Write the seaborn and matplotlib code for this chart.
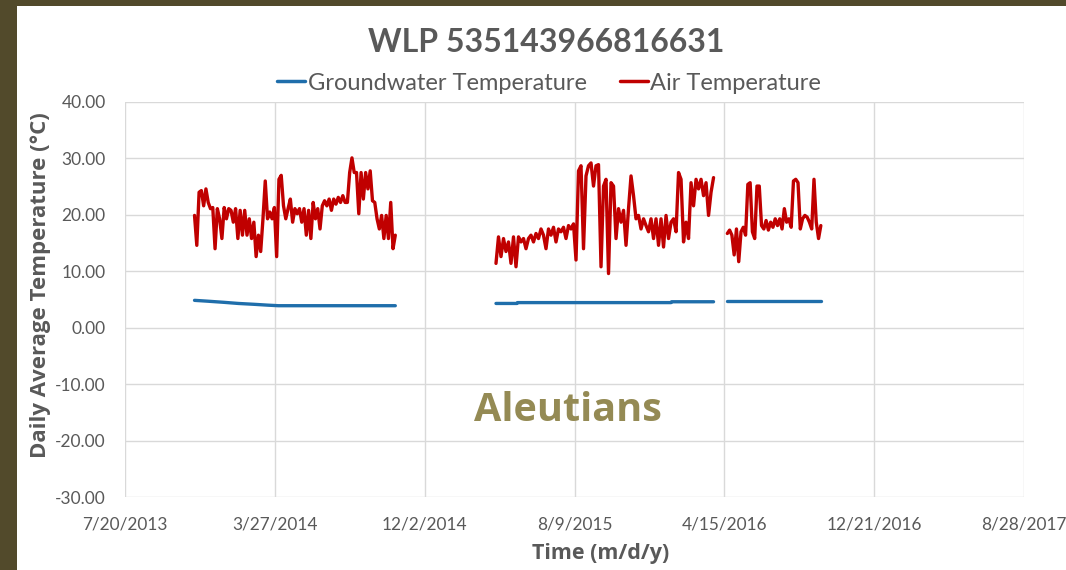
import numpy as np
import pandas as pd
import matplotlib
matplotlib.use("Agg")
import matplotlib.pyplot as plt
import matplotlib.dates as mdates
from matplotlib.lines import Line2D
from matplotlib.patches import Rectangle
import seaborn as sns

# ---------------- data ----------------
title = "WLP 535143966816631"
series_names = ["Groundwater Temperature", "Air Temperature"]
region_label = "Aleutians"

# Air temperature, three logging periods (evenly spaced samples between start and end)
air1_start, air1_end = "2013-11-13", "2014-10-14"
air1_vals = [19.9, 14.6, 24.0, 24.3, 21.6, 24.6, 22.2, 21.1, 21.3, 14.0, 21.1, 19.3, 15.8, 21.3,
             19.3, 21.1, 20.8, 18.7, 21.1, 15.8, 20.8, 16.4, 20.8, 16.4, 19.3, 15.8, 18.7, 12.6,
             16.4, 13.5, 19.3, 26.0, 19.3, 20.5, 19.3, 21.3, 12.6, 26.3, 27.0, 21.6, 19.3, 21.1,
             22.8, 18.7, 21.1, 20.2, 21.1, 18.7, 21.1, 16.4, 20.8, 15.8, 22.2, 19.3, 21.1, 17.5,
             21.6, 22.5, 21.6, 22.8, 20.8, 22.8, 21.9, 23.1, 22.2, 23.4, 22.2, 22.2, 27.5, 30.1,
             27.5, 27.5, 20.2, 27.5, 22.8, 27.5, 24.6, 27.8, 22.5, 22.2, 19.3, 17.5, 19.9, 15.8,
             19.9, 15.8, 22.2, 14.0, 16.4]

air2_start, air2_end = "2015-03-31", "2016-03-28"
air2_vals = [11.4, 16.1, 12.6, 15.8, 13.5, 15.2, 11.4, 16.1, 10.8, 16.1, 15.2, 15.8, 14.0, 15.8,
             16.4, 15.2, 16.7, 15.8, 17.5, 16.4, 14.0, 17.5, 16.4, 17.8, 15.2, 17.5, 17.0, 17.8,
             15.8, 18.1, 17.5, 18.4, 12.0, 27.8, 28.7, 14.0, 26.9, 28.7, 29.2, 25.1, 28.7, 28.9,
             10.8, 25.1, 26.3, 9.6, 25.7, 25.1, 15.8, 21.1, 18.7, 20.8, 14.6, 21.1, 26.9, 23.4,
             19.3, 19.9, 17.5, 19.3, 18.1, 17.0, 19.3, 15.8, 19.3, 14.6, 19.3, 14.3, 19.9, 15.8,
             18.7, 19.3, 17.0, 27.5, 26.3, 15.2, 18.7, 15.8, 25.7, 21.6, 26.3, 24.6, 26.3, 23.4,
             25.7, 19.9, 24.0, 26.6]

air3_start, air3_end = "2016-04-20", "2016-09-23"
air3_vals = [16.7, 17.3, 16.4, 12.9, 17.5, 11.7, 17.0, 17.8, 16.4, 25.4, 25.7, 17.0, 15.8, 25.1,
             25.1, 18.1, 17.5, 19.0, 17.3, 18.7, 17.8, 19.3, 18.1, 19.3, 17.5, 21.1, 18.7, 19.3,
             17.8, 26.0, 26.3, 25.7, 17.5, 19.3, 19.9, 19.6, 18.7, 17.5, 26.3, 18.7, 15.8, 18.1]

# Groundwater temperature, breakpoints per logging period
gw1_dates = ["2013-11-13", "2013-12-05", "2014-01-01", "2014-01-25", "2014-02-20",
             "2014-03-15", "2014-04-02", "2014-10-14"]
gw1_vals = [4.85, 4.7, 4.5, 4.3, 4.15, 4.0, 3.9, 3.9]
gw2_dates = ["2015-03-31", "2015-05-05", "2015-05-06", "2016-01-17", "2016-01-18", "2016-03-28"]
gw2_vals = [4.3, 4.3, 4.45, 4.45, 4.6, 4.6]
gw3_dates = ["2016-04-20", "2016-09-23"]
gw3_vals = [4.7, 4.7]

x_start, x_end = "2013-07-20", "2017-08-28"
y_ticks = [-30, -20, -10, 0, 10, 20, 30, 40]

# ---------------- tidy frame ----------------
frames = []
for i, (s, e, v) in enumerate([(air1_start, air1_end, air1_vals),
                               (air2_start, air2_end, air2_vals),
                               (air3_start, air3_end, air3_vals)]):
    frames.append(pd.DataFrame({"date": pd.date_range(s, e, periods=len(v)), "temp": v,
                                "series": series_names[1], "seg": f"a{i}"}))
for i, (d, v) in enumerate([(gw1_dates, gw1_vals), (gw2_dates, gw2_vals), (gw3_dates, gw3_vals)]):
    frames.append(pd.DataFrame({"date": pd.to_datetime(d), "temp": v,
                                "series": series_names[0], "seg": f"g{i}"}))
df = pd.concat(frames, ignore_index=True)

# ---------------- style ----------------
sns.set_theme(style="whitegrid")
plt.rcParams["font.family"] = ["Lato", "DejaVu Sans"]

W, H = 1066, 570
fig = plt.figure(figsize=(W / 100, H / 100), dpi=100)
fig.patch.set_facecolor("#524a2b")
fig.patches.append(Rectangle((17 / W, 0), (W - 17) / W, (H - 6) / H,
                             transform=fig.transFigure, facecolor="white",
                             edgecolor="none", zorder=-10))

ax = fig.add_axes([125 / W, (H - 497) / H, 899 / W, 395 / H])
ax.set_facecolor("white")
ax.set_zorder(5)

palette = {series_names[0]: "#1f6eab", series_names[1]: "#c00000"}
sns.lineplot(data=df, x="date", y="temp", hue="series", units="seg", estimator=None,
             palette=palette, linewidth=2.4, legend=False, ax=ax, sort=False)

xs, xe = pd.Timestamp(x_start), pd.Timestamp(x_end)
ax.set_xlim(xs, xe)
ax.set_xticks(pd.date_range(xs, periods=7, freq="250D"))
ax.xaxis.set_major_formatter(plt.FuncFormatter(
    lambda v, p: (lambda d: f"{d.month}/{d.day}/{d.year}")(mdates.num2date(v))))
ax.set_ylim(-30, 40)
ax.set_yticks(y_ticks)
ax.yaxis.set_major_formatter(plt.FuncFormatter(lambda v, p: f"{v:.2f}"))

ax.grid(True, color="#d9d9d9", linewidth=1.0)
for sp in ax.spines.values():
    sp.set_visible(False)
ax.tick_params(axis="both", length=0, labelsize=12.4, colors="#595959")
ax.tick_params(axis="x", pad=14)
ax.tick_params(axis="y", pad=14, labelsize=12.5)

ax.set_xlabel("")
ax.set_ylabel("")

fig.text(41 / W, 1 - 285 / H, "Daily Average Temperature (°C)", rotation=90,
         ha="center", va="center", fontsize=16, fontweight="bold", color="#595959",
         family=["Open Sans", "DejaVu Sans"])

fig.text(601 / W, 1 - 553 / H, "Time (m/d/y)", ha="center", va="center", fontsize=15.5,
         fontweight="bold", color="#595959", family=["Open Sans", "DejaVu Sans"])

fig.text(546 / W, 1 - 42 / H, title, ha="center", va="center", fontsize=23,
         fontweight="bold", color="#595959")

handles = [Line2D([], [], color=palette[n], linewidth=2.5) for n in series_names]
fig.legend(handles, series_names, loc="center", bbox_to_anchor=(549 / W, 1 - 83 / H),
           ncol=2, frameon=False, fontsize=17, handlelength=1.2, handletextpad=0.1,
           columnspacing=1.4, labelcolor="#595959")

ax.text((568 - 125) / 899, -14.6, region_label, transform=ax.get_yaxis_transform(),
        ha="center", va="center", fontsize=28.5, fontweight="bold", color="#948a54",
        family=["Open Sans", "DejaVu Sans"])

fig.savefig("out.png", dpi=100, facecolor=fig.get_facecolor())
